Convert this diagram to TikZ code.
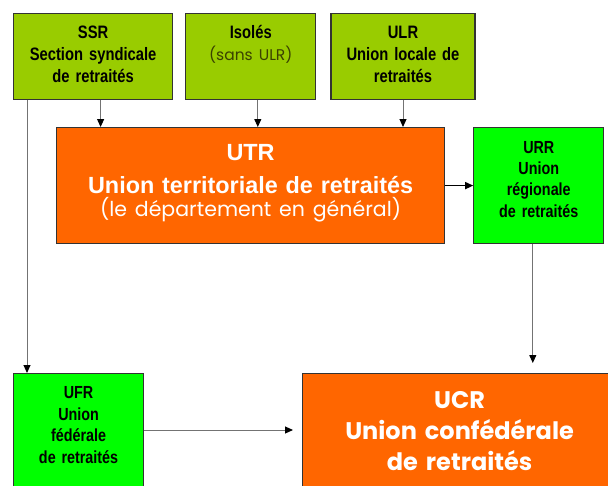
\documentclass[tikz,border=0pt]{standalone}
\usepackage{fontspec}
\setmainfont{Liberation Sans}
\newfontfamily\narrow[FakeStretch=0.82]{Liberation Sans}
\newfontfamily\gothic{Poppins}
\usetikzlibrary{positioning,arrows.meta}
\definecolor{limegreen}{HTML}{99CC00}
\definecolor{flashgreen}{HTML}{00FF00}
\definecolor{utrorange}{HTML}{FF6600}
\definecolor{olivetext}{HTML}{3A4200}
\tikzset{
  box/.style={draw=black!80, line width=1.2pt, inner sep=0pt, align=center},
  limebox/.style={box, fill=limegreen, text width=#1, text height=24.8pt, text depth=61.2pt,
    font=\narrow\bfseries\fontsize{18}{22}\selectfont},
  greenbox/.style={box, fill=flashgreen, text width=130pt,
    font=\narrow\bfseries\fontsize{17.5}{21.4}\selectfont},
  orangebox/.style={box, fill=utrorange, text=white},
  link/.style={draw=black!55, line width=1pt, -{Triangle[length=8pt,width=7pt,color=black]}}
}
\begin{document}
\begin{tikzpicture}[x=1pt,y=-1pt]
	\fill[white] (0,0) rectangle (608,485);
	\path[use as bounding box, clip] (0,0) rectangle (608,485);
	% top row
	\node[limebox=159pt, anchor=north west] (ssr) at (13,12.7) {SSR\\Section syndicale\\de retraités};
	\node[limebox=130pt, right=12pt of ssr] (isoles) {Isolés\\{\gothic\mdseries\fontsize{15.5}{22}\selectfont\color{olivetext}(sans ULR)}};
	\node[limebox=144pt, right=14pt of isoles] (ulr) {ULR\\Union locale de\\retraités};
	% middle row
	\node[orangebox, anchor=north west, text width=388pt, text height=33pt, text depth=83pt,
		font=\fontsize{23.4}{33}\selectfont\bfseries] (utr) at (56,127)
		{UTR\\Union territoriale de retraités\\[-10pt]{\gothic\mdseries\fontsize{20.5}{23}\selectfont(le département en général)}};
	\node[greenbox, right=28pt of utr, text height=25.5pt, text depth=90.5pt] (urr) {URR\\Union\\régionale\\de retraités};
	% bottom row
	\node[greenbox, anchor=north west, text height=25.3pt, text depth=130pt] (ufr) at (13,373) {UFR\\Union\\fédérale\\de retraités};
	\node[orangebox, anchor=north west, text width=314pt, text height=35pt, text depth=120pt,
		font=\gothic\bfseries\fontsize{24}{31}\selectfont] (ucr) at (302,373) {UCR\\Union confédérale\\de retraités};
	% connectors
	\draw[link] ([xshift=7.5pt]ssr.south) -- ([xshift=7.5pt]ssr.south |- utr.north);
	\draw[link] ([xshift=7pt]isoles.south) -- ([xshift=7pt]isoles.south |- utr.north);
	\draw[link] (ulr.south) -- (ulr.south |- utr.north);
	\draw[link, draw=black, line width=1.5pt] (utr.east) -- (utr.east -| urr.west);
	\draw[link] ([xshift=14pt]ssr.south west) -- ([xshift=14pt]ufr.north west);
	\draw[link] ([xshift=-6pt]urr.south) -- ([xshift=-6pt, yshift=10pt]urr.south |- ucr.north);
	\draw[link] ([yshift=-57pt]ufr.north east) -- ([xshift=-9pt, yshift=-57pt]ucr.north west);
\end{tikzpicture}
\end{document}
